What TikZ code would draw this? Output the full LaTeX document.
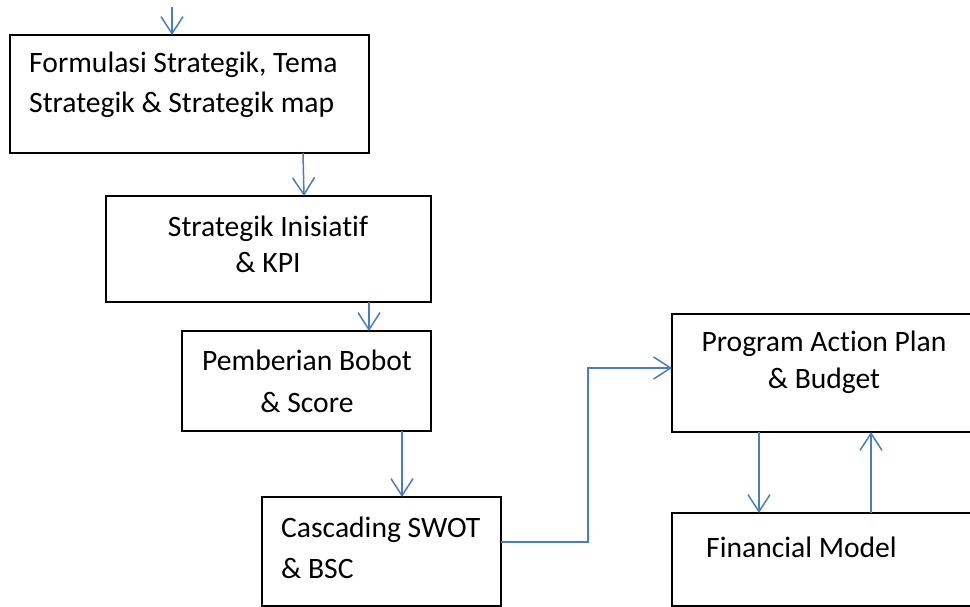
\documentclass[tikz,border=0pt]{standalone}
\usepackage{fontspec}
\setmainfont[Ligatures={NoCommon}]{Carlito}
\usetikzlibrary{arrows.meta}
\definecolor{linkblue}{HTML}{4A7EBB}
\tikzset{
  box/.style={draw=black, line width=1.1pt, rectangle, inner sep=0pt, outer sep=0pt, anchor=north west},
  txt/.style={inner sep=0pt, font=\fontsize{29.6}{40}\selectfont},
  arr/.style={draw=linkblue, line width=1.5pt, -{Straight Barb[length=17pt,width=22pt,line width=1.5pt]}}
}
\begin{document}
\begin{tikzpicture}[x=1pt,y=-1pt]
\clip (0,0) rectangle (970,607);
\fill[white] (0,0) rectangle (970,607);
% boxes
\node[box, minimum width=359pt, minimum height=118pt] (b1) at (10,35) {};
\node[box, minimum width=325pt, minimum height=106pt] (b2) at (106,196) {};
\node[box, minimum width=249pt, minimum height=100pt] (b3) at (182,331) {};
\node[box, minimum width=239pt, minimum height=109pt] (b4) at (262,497) {};
\node[box, minimum width=320pt, minimum height=118pt] (b5) at (672,314) {};
\node[box, minimum width=320pt, minimum height=93pt] (b6) at (672,513) {};
% texts
\node[txt, align=left, anchor=west] (t1) at (29,85) {Formulasi Strategik, Tema\\Strategik \& Strategik map};
\node[txt, align=center, font=\fontsize{29.6}{36}\selectfont] (t2) at (268,244) {Strategik Inisiatif\\\& KPI};
\node[txt, align=center, font=\fontsize{29.6}{42}\selectfont] (t3) at (307,381) {Pemberian Bobot\\\& Score};
\node[txt, align=left, anchor=west, font=\fontsize{29.6}{41}\selectfont] (t4) at (281,548) {Cascading SWOT\\\& BSC};
\node[txt, align=center, font=\fontsize{29.6}{37}\selectfont] (t5) at (824,362) {Program Action Plan\\\& Budget};
\node[txt, anchor=west] (t6) at (706,547) {Financial Model};
% connectors
\coordinate (in) at (172,7);
\draw[arr] (in) -- ([xshift=162pt]b1.north west);
\draw[arr] ([xshift=293pt]b1.south west) -- ([xshift=198pt]b2.north west);
\draw[arr] ([xshift=263pt]b2.south west) -- ([xshift=187pt]b3.north west);
\draw[arr] ([xshift=220pt]b3.south west) -- ([xshift=140pt]b4.north west);
\draw[arr] ([yshift=9.5pt]b4.east) -- ++(87,0) |- ([yshift=5pt]b5.west);
\draw[arr] ([xshift=87pt]b5.south west) -- ([xshift=87pt]b6.north west);
\draw[arr] ([xshift=199pt]b6.north west) -- ([xshift=199pt]b5.south west);
\end{tikzpicture}
\end{document}
